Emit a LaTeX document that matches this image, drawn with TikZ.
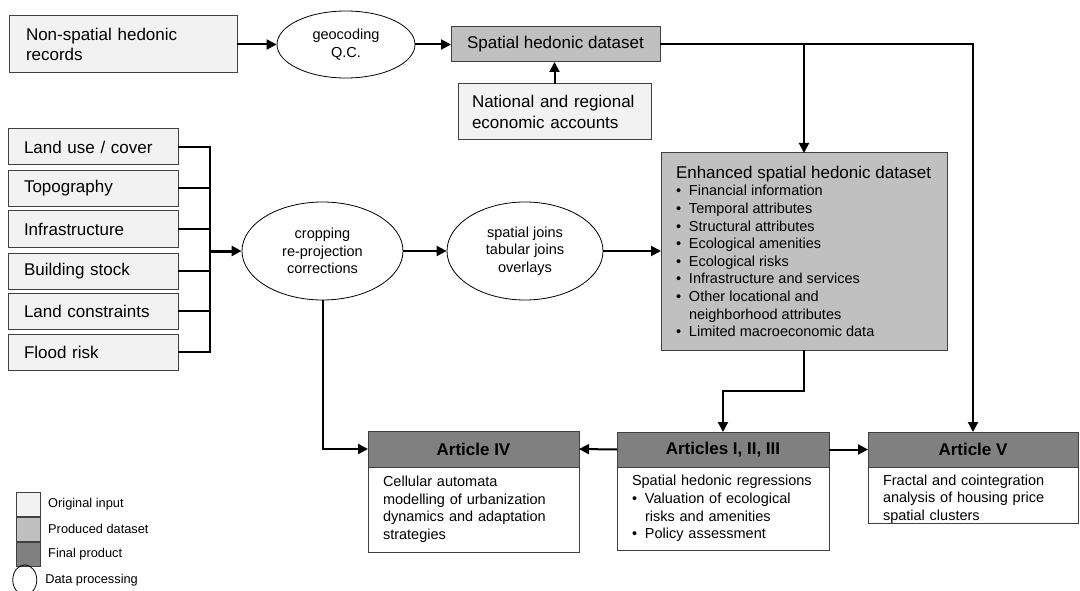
\documentclass[tikz,border=0pt]{standalone}
\usepackage{fontspec}
\setmainfont{Liberation Sans}
\usetikzlibrary{shapes.geometric,arrows.meta}
\definecolor{inputc}{HTML}{F2F2F2}
\definecolor{prodc}{HTML}{C0C0C0}
\definecolor{finalc}{HTML}{808080}
\definecolor{edgec}{HTML}{404040}
\newcommand\bigfont{\fontsize{17}{20.5}\selectfont}
\newcommand\smallfont{\fontsize{14.5}{17.6}\selectfont}
\newcommand\legfont{\fontsize{12.8}{15}\selectfont}
\newcommand\bitem[1]{\par\hangindent=13pt\hangafter=1\noindent\makebox[13pt][l]{\textbullet}#1}
\begin{document}
\begin{tikzpicture}[x=1pt,y=-1pt,
 box/.style={draw=edgec, line width=1pt, inner ysep=0pt, outer sep=0pt},
 inbox/.style={box, fill=inputc},
 prodbox/.style={box, fill=prodc},
 finbox/.style={box, fill=finalc},
 hdrbox/.style={box, fill=finalc, font=\bfseries\bigfont},
 bodybox/.style={box, fill=white, align=left, font=\smallfont},
 lbox/.style={inbox, text width=138pt, inner xsep=16pt, minimum height=36pt, align=left, font=\bigfont},
 proc/.style={ellipse, draw=black, line width=0.8pt, fill=white, inner sep=0pt, align=center, font=\smallfont},
 conn/.style={line width=2pt, black},
 arr/.style={conn, -{Triangle[length=10pt,width=10pt]}},
 legtext/.style={anchor=west, font=\legfont, inner sep=0pt},
 legbox/.style={minimum width=24pt, minimum height=24pt, anchor=north west},
]
\useasboundingbox (0,0) rectangle (1080,591);

% top row
\node[inbox, anchor=north west, text width=194pt, inner xsep=17pt, minimum height=57pt, align=left, font=\bigfont] (ns) at (9,16) {Non-spatial hedonic\\records};
\node[proc, minimum width=138pt, minimum height=67pt] (geo) at (346,44.5) {geocoding\\Q.C.};
\node[prodbox, minimum width=209pt, minimum height=35pt, font=\bigfont] (ds) at (555.5,44.5) {Spatial hedonic dataset};
\node[inbox, anchor=north west, text width=165pt, inner xsep=14pt, minimum height=56pt, align=left, font=\bigfont] (nat) at (458,84) {National and regional\\economic accounts};

% left inputs
\node[lbox] (lu) at (93,147) {Land use / cover};
\node[lbox] (tp) at (93,188.5) {Topography};
\node[lbox] (inf) at (93,229) {Infrastructure};
\node[lbox] (bs) at (93,271) {Building stock};
\node[lbox] (lc) at (93,311) {Land constraints};
\node[lbox] (fr) at (93,352) {Flood risk};

% processing
\node[proc, minimum width=161pt, minimum height=98pt] (crop) at (322.5,251) {cropping\\re-projection\\corrections};
\node[proc, minimum width=156pt, minimum height=98pt] (sj) at (525,251) {spatial joins\\tabular joins\\overlays};

% enhanced dataset
\node[prodbox, anchor=north west, minimum width=286pt, minimum height=197pt, inner xsep=15pt] (enh) at (661,153) {\parbox{256pt}{\parindent=0pt\bigfont Enhanced spatial hedonic dataset\par\smallfont
\bitem{Financial information}
\bitem{Temporal attributes}
\bitem{Structural attributes}
\bitem{Ecological amenities}
\bitem{Ecological risks}
\bitem{Infrastructure and services}
\bitem{Other locational and\\neighborhood attributes}
\bitem{Limited macroeconomic data}}};

% articles
\node[hdrbox, anchor=north west, minimum width=211pt, minimum height=36pt] (a4h) at (368,431) {Article IV};
\node[bodybox, anchor=north, text width=181pt, inner xsep=15pt, minimum height=85pt] (a4b) at (a4h.south) {\parbox[c][85pt][t]{181pt}{\parindent=0pt\smallfont\vspace*{9pt}Cellular automata\\modelling of urbanization\\dynamics and adaptation\\strategies}};

\node[hdrbox, anchor=north west, minimum width=212pt, minimum height=35pt] (a13h) at (617,432) {Articles I, II, III};
\node[bodybox, anchor=north, text width=182pt, inner xsep=15pt, minimum height=83pt] (a13b) at (a13h.south) {\parbox{182pt}{\parindent=0pt\smallfont Spatial hedonic regressions
\bitem{Valuation of ecological\\risks and amenities}
\bitem{Policy assessment}}};

\node[hdrbox, anchor=north west, minimum width=210pt, minimum height=35pt] (avh) at (868,432) {Article V};
\node[bodybox, anchor=north, text width=180pt, inner xsep=15pt, minimum height=56pt] (avb) at (avh.south) {\parbox[c][56pt][t]{180pt}{\parindent=0pt\smallfont\vspace*{7.5pt}Fractal and cointegration\\analysis of housing price\\spatial clusters}};

% connectors
\draw[arr] (ns.east) -- (geo.west);
\draw[arr] (geo.east) -- (ds.west);
\draw[arr] (nat.north) -- (nat.north |- ds.south);
\draw[arr] (ds.east) -| (avh.north);
\draw[arr] (enh.north |- ds.east) -- (enh.north);

\coordinate (bus) at (210,251);
\draw[conn] (lu.east) -| (fr.east -| bus) -- (fr.east);
\foreach \n in {tp,inf,bs,lc} \draw[conn] (\n.east) -- (\n.east -| bus);
\draw[arr, line width=3pt] (bus) -- (crop.west);

\draw[arr] (crop.east) -- (sj.west);
\draw[arr] (sj.east) -- (sj.east -| enh.west);
\draw[arr] (crop.south) |- (a4h.west);
\draw[arr] (enh.south) -- ++(0,41) -| (a13h.north);
\draw[arr] (a13h.west) -- (a4h.east);
\draw[arr] (a13h.east) -- (avh.west);

% legend
\node[inbox, legbox] (lg1) at (16,492) {};
\node[prodbox, legbox] (lg2) at (16,517) {};
\node[finbox, legbox] (lg3) at (16,542) {};
\node[ellipse, draw=black, line width=0.8pt, minimum width=24pt, minimum height=30pt, inner sep=0pt, anchor=north west] (lg4) at (16,569) {};
\node[legtext] (lt1) at ([xshift=8pt]lg1.east) {Original input};
\node[legtext] (lt2) at ([xshift=8pt]lg2.east) {Produced dataset};
\node[legtext] (lt3) at ([xshift=8pt]lg3.east) {Final product};
\node[legtext] (lt4) at ([xshift=8pt]lg4.east) {Data processing};
\end{tikzpicture}
\end{document}
